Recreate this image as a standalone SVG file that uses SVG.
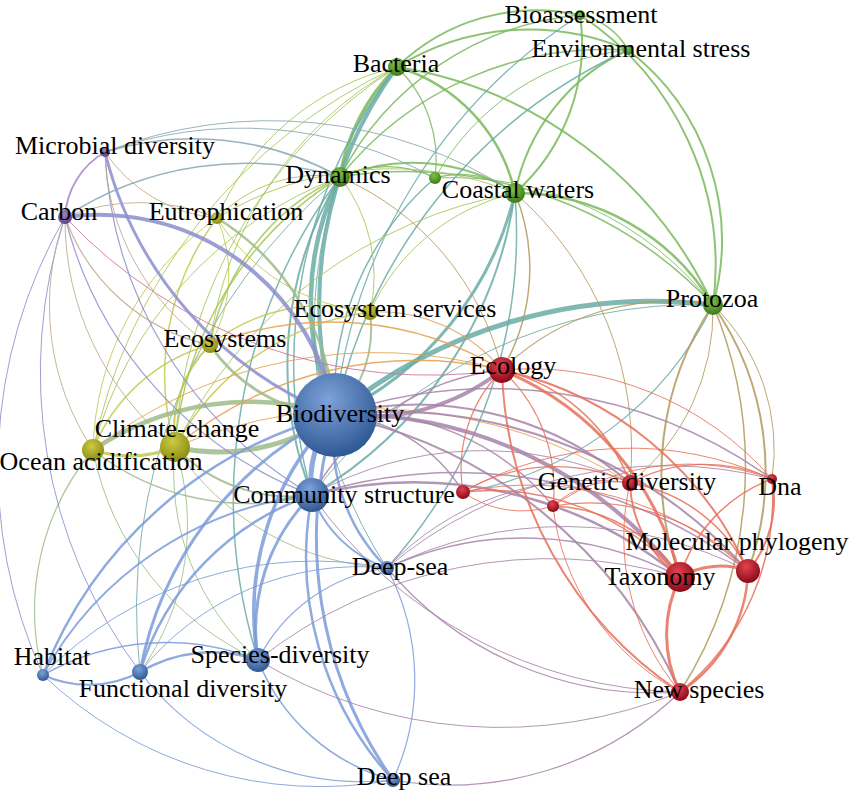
<svg xmlns="http://www.w3.org/2000/svg" width="850" height="794" viewBox="0 0 850 794">
<defs>
<radialGradient id="gB" cx="42%" cy="32%" r="70%"><stop offset="0" stop-color="#7ea2da"/><stop offset="1" stop-color="#2d5791"/></radialGradient>
<radialGradient id="gR" cx="42%" cy="32%" r="70%"><stop offset="0" stop-color="#e2434f"/><stop offset="1" stop-color="#880815"/></radialGradient>
<radialGradient id="gG" cx="42%" cy="32%" r="70%"><stop offset="0" stop-color="#7fc24c"/><stop offset="1" stop-color="#3a7817"/></radialGradient>
<radialGradient id="gY" cx="42%" cy="32%" r="70%"><stop offset="0" stop-color="#cbcb44"/><stop offset="1" stop-color="#8a8a10"/></radialGradient>
<radialGradient id="gP" cx="42%" cy="32%" r="70%"><stop offset="0" stop-color="#9d84be"/><stop offset="1" stop-color="#5b4180"/></radialGradient>
</defs>
<style>
path{fill:none;stroke-opacity:.85;stroke-linecap:round}
.gg{stroke:#79b95b}.rr{stroke:#e8705a}.bb{stroke:#7b9bd8}.yy{stroke:#c3c94e}.pp{stroke:#a88bc8}
.bg{stroke:#6aaca6}.br{stroke:#a684a8}.by{stroke:#9fbb8a}.bp{stroke:#8c8ecc}.rg{stroke:#b09a5c}
.ry{stroke:#e4a04e}.yg{stroke:#a6c456}.pg{stroke:#8aa6b0}.py{stroke:#bca98a}.pr{stroke:#d0708e}
text{font-family:"Liberation Serif","Times New Roman",serif;font-size:26px;fill:#000;text-anchor:middle}
</style>
<rect width="850" height="794" fill="#fff"/>
<g id="edges">
<path class="gg" stroke-width="3.5" d="M397 67A200 200 0 0 0 340 177"/>
<path class="gg" stroke-width="2" d="M397 67A200 200 0 0 1 580 15"/>
<path class="gg" stroke-width="2" d="M397 67A250 250 0 0 1 628 50"/>
<path class="gg" stroke-width="2.5" d="M397 67A170 170 0 0 1 515 193"/>
<path class="gg" stroke-width="1.2" d="M397 67A130 130 0 0 1 435 178"/>
<path class="gg" stroke-width="2" d="M397 67A420 420 0 0 1 713 305"/>
<path class="gg" stroke-width="1.5" d="M580 15A70 70 0 0 1 628 50"/>
<path class="gg" stroke-width="2" d="M580 15A200 200 0 0 1 515 193"/>
<path class="gg" stroke-width="2" d="M580 15A300 300 0 0 1 713 305"/>
<path class="gg" stroke-width="1.5" d="M580 15A300 300 0 0 0 340 177"/>
<path class="gg" stroke-width="2" d="M628 50A200 200 0 0 0 515 193"/>
<path class="gg" stroke-width="2" d="M628 50A240 240 0 0 1 713 305"/>
<path class="gg" stroke-width="1.5" d="M628 50A340 340 0 0 0 340 177"/>
<path class="gg" stroke-width="2" d="M340 177A190 190 0 0 1 515 193"/>
<path class="gg" stroke-width="1.2" d="M340 177A110 110 0 0 1 435 178"/>
<path class="gg" stroke-width="1.5" d="M340 177A420 420 0 0 1 713 305"/>
<path class="gg" stroke-width="2.5" d="M515 193A230 230 0 0 1 713 305"/>
<path class="gg" stroke-width="1.2" d="M435 178A90 90 0 0 1 515 193"/>
<path class="gg" stroke-width="1" d="M435 178A330 330 0 0 1 713 305"/>
<path class="gg" stroke-width="1" d="M435 178A250 250 0 0 1 628 50"/>
<path class="bg" stroke-width="5" d="M335 415A500 500 0 0 1 713 305"/>
<path class="bg" stroke-width="4.5" d="M335 415A280 280 0 0 1 340 177"/>
<path class="bg" stroke-width="4" d="M335 415A400 400 0 0 1 397 67"/>
<path class="bg" stroke-width="3" d="M335 415A330 330 0 0 0 515 193"/>
<path class="bg" stroke-width="1.5" d="M335 415A290 290 0 0 1 435 178"/>
<path class="bg" stroke-width="1.5" d="M335 415A520 520 0 0 1 628 50"/>
<path class="bg" stroke-width="1.2" d="M335 415A540 540 0 0 1 580 15"/>
<path class="bg" stroke-width="2" d="M312 495A360 360 0 0 1 340 177"/>
<path class="bg" stroke-width="2" d="M312 495A420 420 0 0 0 515 193"/>
<path class="bg" stroke-width="1.5" d="M312 495A480 480 0 0 1 397 67"/>
<path class="bg" stroke-width="1" d="M312 495A480 480 0 0 1 713 305"/>
<path class="bg" stroke-width="1.5" d="M387 568A500 500 0 0 0 515 193"/>
<path class="bg" stroke-width="1.5" d="M258 660A540 540 0 0 1 340 177"/>
<path class="bg" stroke-width="1" d="M140 672A560 560 0 0 1 340 177"/>
<path class="bg" stroke-width="1" d="M387 568A440 440 0 0 1 340 177"/>
<path class="bg" stroke-width="1.2" d="M463 492A340 340 0 0 0 713 305"/>
<path class="rg" stroke-width="1.5" d="M502 370A200 200 0 0 0 515 193"/>
<path class="rg" stroke-width="1.2" d="M502 370A240 240 0 0 1 713 305"/>
<path class="rg" stroke-width="1" d="M502 370A280 280 0 0 0 340 177"/>
<path class="rg" stroke-width="2" d="M680 577A300 300 0 0 1 713 305"/>
<path class="rg" stroke-width="2" d="M748 571A290 290 0 0 0 713 305"/>
<path class="rg" stroke-width="1.5" d="M680 692A420 420 0 0 0 713 305"/>
<path class="rg" stroke-width="1" d="M772 479A200 200 0 0 0 713 305"/>
<path class="rg" stroke-width="1" d="M630 483A340 340 0 0 0 515 193"/>
<path class="rg" stroke-width="1" d="M630 483A220 220 0 0 0 713 305"/>
<path class="yy" stroke-width="3" d="M175 447A120 120 0 0 1 93 450"/>
<path class="yy" stroke-width="2" d="M175 447A120 120 0 0 1 210 345"/>
<path class="yy" stroke-width="1.5" d="M175 447A260 260 0 0 1 217 218"/>
<path class="yy" stroke-width="1.5" d="M175 447A260 260 0 0 1 370 312"/>
<path class="yy" stroke-width="1.5" d="M93 450A175 175 0 0 1 210 345"/>
<path class="yy" stroke-width="1" d="M93 450A290 290 0 0 1 217 218"/>
<path class="yy" stroke-width="1" d="M210 345A140 140 0 0 0 217 218"/>
<path class="yy" stroke-width="1.5" d="M210 345A180 180 0 0 1 370 312"/>
<path class="yy" stroke-width="1" d="M217 218A200 200 0 0 0 370 312"/>
<path class="by" stroke-width="5" d="M335 415A200 200 0 0 1 175 447"/>
<path class="by" stroke-width="4.5" d="M93 450A280 280 0 0 1 335 415"/>
<path class="by" stroke-width="3" d="M210 345A160 160 0 0 0 335 415"/>
<path class="by" stroke-width="2" d="M370 312A120 120 0 0 1 335 415"/>
<path class="by" stroke-width="2.5" d="M217 218A250 250 0 0 1 335 415"/>
<path class="by" stroke-width="2" d="M175 447A160 160 0 0 0 312 495"/>
<path class="by" stroke-width="1.5" d="M93 450A250 250 0 0 0 312 495"/>
<path class="by" stroke-width="1" d="M93 450A290 290 0 0 0 258 660"/>
<path class="by" stroke-width="1" d="M175 447A250 250 0 0 0 258 660"/>
<path class="by" stroke-width="1" d="M175 447A250 250 0 0 1 140 672"/>
<path class="by" stroke-width="1.2" d="M43 675A250 250 0 0 1 93 450"/>
<path class="by" stroke-width="1" d="M175 447A270 270 0 0 0 387 568"/>
<path class="yg" stroke-width="1.5" d="M175 447A350 350 0 0 1 340 177"/>
<path class="yg" stroke-width="1" d="M175 447A480 480 0 0 1 397 67"/>
<path class="yg" stroke-width="1.5" d="M210 345A230 230 0 0 1 340 177"/>
<path class="yg" stroke-width="1" d="M217 218A140 140 0 0 1 340 177"/>
<path class="yg" stroke-width="1" d="M217 218A260 260 0 0 1 397 67"/>
<path class="yg" stroke-width="1" d="M370 312A160 160 0 0 0 340 177"/>
<path class="yg" stroke-width="1" d="M370 312A210 210 0 0 1 515 193"/>
<path class="yg" stroke-width="1" d="M175 447A470 470 0 0 1 515 193"/>
<path class="yg" stroke-width="1" d="M93 450A400 400 0 0 1 340 177"/>
<path class="yg" stroke-width="1" d="M217 218A330 330 0 0 1 515 193"/>
<path class="yg" stroke-width="1" d="M210 345A370 370 0 0 1 397 67"/>
<path class="yg" stroke-width="1" d="M93 450A540 540 0 0 1 397 67"/>
<path class="ry" stroke-width="1.5" d="M175 447A380 380 0 0 1 502 370"/>
<path class="ry" stroke-width="1.2" d="M370 312A160 160 0 0 1 502 370"/>
<path class="ry" stroke-width="1.5" d="M210 345A330 330 0 0 1 502 370"/>
<path class="ry" stroke-width="1" d="M93 450A460 460 0 0 1 502 370"/>
<path class="ry" stroke-width="1" d="M175 447A500 500 0 0 1 630 483"/>
<path class="pr" stroke-width="1" d="M65 217A500 500 0 0 0 502 370"/>
<path class="pp" stroke-width="2" d="M105 152A80 80 0 0 0 65 217"/>
<path class="bp" stroke-width="3" d="M105 152A380 380 0 0 0 335 415"/>
<path class="bp" stroke-width="4" d="M65 217A240 240 0 0 1 335 415"/>
<path class="bp" stroke-width="1.2" d="M105 152A420 420 0 0 0 312 495"/>
<path class="bp" stroke-width="1.2" d="M65 217A400 400 0 0 0 312 495"/>
<path class="bp" stroke-width="1" d="M65 217A500 500 0 0 0 43 675"/>
<path class="bp" stroke-width="1" d="M65 217A500 500 0 0 0 140 672"/>
<path class="py" stroke-width="1" d="M105 152A150 150 0 0 0 217 218"/>
<path class="py" stroke-width="1" d="M65 217A200 200 0 0 1 217 218"/>
<path class="py" stroke-width="1.2" d="M65 217A200 200 0 0 0 210 345"/>
<path class="py" stroke-width="1" d="M65 217A290 290 0 0 0 175 447"/>
<path class="py" stroke-width="1" d="M65 217A260 260 0 0 0 93 450"/>
<path class="py" stroke-width="1" d="M105 152A240 240 0 0 0 210 345"/>
<path class="pg" stroke-width="1.5" d="M105 152A300 300 0 0 1 340 177"/>
<path class="pg" stroke-width="1" d="M105 152A400 400 0 0 1 435 178"/>
<path class="pg" stroke-width="1.5" d="M65 217A330 330 0 0 1 340 177"/>
<path class="pg" stroke-width="1" d="M105 152A450 450 0 0 1 515 193"/>
<path class="bb" stroke-width="5" d="M335 415A100 100 0 0 0 312 495"/>
<path class="bb" stroke-width="3.5" d="M335 415A280 280 0 0 0 258 660"/>
<path class="bb" stroke-width="3" d="M335 415A360 360 0 0 0 140 672"/>
<path class="bb" stroke-width="2.5" d="M335 415A430 430 0 0 0 43 675"/>
<path class="bb" stroke-width="3" d="M335 415A420 420 0 0 0 393 780"/>
<path class="bb" stroke-width="2.5" d="M335 415A180 180 0 0 0 387 568"/>
<path class="bb" stroke-width="3" d="M312 495A190 190 0 0 0 258 660"/>
<path class="bb" stroke-width="2.5" d="M312 495A270 270 0 0 0 140 672"/>
<path class="bb" stroke-width="2" d="M312 495A350 350 0 0 0 43 675"/>
<path class="bb" stroke-width="2.5" d="M312 495A330 330 0 0 0 393 780"/>
<path class="bb" stroke-width="2" d="M312 495A120 120 0 0 0 387 568"/>
<path class="bb" stroke-width="2.5" d="M258 660A140 140 0 0 0 140 672"/>
<path class="bb" stroke-width="1.5" d="M258 660A250 250 0 0 0 43 675"/>
<path class="bb" stroke-width="1.5" d="M258 660A200 200 0 0 0 393 780"/>
<path class="bb" stroke-width="2" d="M140 672A110 110 0 0 1 43 675"/>
<path class="bb" stroke-width="1.2" d="M140 672A280 280 0 0 0 393 780"/>
<path class="bb" stroke-width="1" d="M43 675A400 400 0 0 0 393 780"/>
<path class="bb" stroke-width="1.2" d="M387 568A240 240 0 0 1 393 780"/>
<path class="bb" stroke-width="1" d="M387 568A280 280 0 0 0 140 672"/>
<path class="bb" stroke-width="1" d="M43 675A380 380 0 0 1 387 568"/>
<path class="bb" stroke-width="1.2" d="M258 660A170 170 0 0 1 387 568"/>
<path class="br" stroke-width="4" d="M335 415A220 220 0 0 0 502 370"/>
<path class="br" stroke-width="4" d="M335 415A420 420 0 0 1 680 577"/>
<path class="br" stroke-width="2" d="M335 415A480 480 0 0 1 748 571"/>
<path class="br" stroke-width="2" d="M335 415A480 480 0 0 1 680 692"/>
<path class="br" stroke-width="2" d="M335 415A330 330 0 0 1 630 483"/>
<path class="br" stroke-width="1.5" d="M335 415A160 160 0 0 1 463 492"/>
<path class="br" stroke-width="1.5" d="M335 415A250 250 0 0 1 553 506"/>
<path class="br" stroke-width="1.5" d="M335 415A480 480 0 0 1 772 479"/>
<path class="br" stroke-width="2.5" d="M312 495A420 420 0 0 1 680 577"/>
<path class="br" stroke-width="1.5" d="M312 495A480 480 0 0 1 748 571"/>
<path class="br" stroke-width="1" d="M312 495A460 460 0 0 0 680 692"/>
<path class="br" stroke-width="1.5" d="M312 495A250 250 0 0 1 502 370"/>
<path class="br" stroke-width="1" d="M312 495A350 350 0 0 1 630 483"/>
<path class="br" stroke-width="1.5" d="M387 568A330 330 0 0 1 680 577"/>
<path class="br" stroke-width="1.2" d="M387 568A350 350 0 0 0 680 692"/>
<path class="br" stroke-width="1" d="M387 568A400 400 0 0 1 748 571"/>
<path class="br" stroke-width="1" d="M387 568A280 280 0 0 1 630 483"/>
<path class="br" stroke-width="1" d="M387 568A430 430 0 0 1 772 479"/>
<path class="br" stroke-width="1.2" d="M393 780A330 330 0 0 0 680 692"/>
<path class="br" stroke-width="1" d="M258 660A470 470 0 0 1 680 577"/>
<path class="br" stroke-width="1" d="M258 660A470 470 0 0 0 680 692"/>
<path class="rr" stroke-width="3" d="M680 577A80 80 0 0 1 748 571"/>
<path class="rr" stroke-width="3" d="M680 692A130 130 0 0 1 680 577"/>
<path class="rr" stroke-width="2.5" d="M748 571A150 150 0 0 1 680 692"/>
<path class="rr" stroke-width="2" d="M772 479A110 110 0 0 1 748 571"/>
<path class="rr" stroke-width="1.5" d="M772 479A150 150 0 0 0 680 577"/>
<path class="rr" stroke-width="1.5" d="M772 479A250 250 0 0 1 680 692"/>
<path class="rr" stroke-width="2" d="M630 483A120 120 0 0 0 680 577"/>
<path class="rr" stroke-width="1.5" d="M630 483A160 160 0 0 1 748 571"/>
<path class="rr" stroke-width="1.2" d="M630 483A160 160 0 0 1 772 479"/>
<path class="rr" stroke-width="1" d="M630 483A240 240 0 0 0 680 692"/>
<path class="rr" stroke-width="3" d="M502 370A300 300 0 0 1 680 577"/>
<path class="rr" stroke-width="2" d="M502 370A350 350 0 0 1 748 571"/>
<path class="rr" stroke-width="2" d="M502 370A400 400 0 0 0 680 692"/>
<path class="rr" stroke-width="1.5" d="M502 370A180 180 0 0 1 630 483"/>
<path class="rr" stroke-width="1.2" d="M502 370A140 140 0 0 0 463 492"/>
<path class="rr" stroke-width="1.2" d="M502 370A160 160 0 0 1 553 506"/>
<path class="rr" stroke-width="1" d="M502 370A320 320 0 0 1 772 479"/>
<path class="rr" stroke-width="1.5" d="M463 492A250 250 0 0 1 680 577"/>
<path class="rr" stroke-width="1.2" d="M463 492A180 180 0 0 1 630 483"/>
<path class="rr" stroke-width="1" d="M463 492A100 100 0 0 0 553 506"/>
<path class="rr" stroke-width="1" d="M463 492A320 320 0 0 1 748 571"/>
<path class="rr" stroke-width="1.5" d="M553 506A160 160 0 0 1 680 577"/>
<path class="rr" stroke-width="1.2" d="M553 506A220 220 0 0 1 748 571"/>
<path class="rr" stroke-width="1" d="M553 506A90 90 0 0 1 630 483"/>
<path class="rr" stroke-width="1" d="M553 506A240 240 0 0 1 772 479"/>
<path class="rr" stroke-width="1" d="M463 492A340 340 0 0 1 772 479"/>
<path class="rr" stroke-width="1" d="M553 506A240 240 0 0 0 680 692"/>
</g>
<g id="n-bioassessment"><circle cx="580" cy="15" r="5" fill="url(#gG)"/><text x="581" y="23">Bioassessment</text></g>
<g id="n-environmental-stress"><circle cx="628" cy="50" r="5" fill="url(#gG)"/><text x="641" y="57">Environmental stress</text></g>
<g id="n-bacteria"><circle cx="397" cy="67" r="9" fill="url(#gG)"/><text x="396" y="72">Bacteria</text></g>
<g id="n-dynamics"><circle cx="340" cy="177" r="10" fill="url(#gG)"/><text x="338" y="183">Dynamics</text></g>
<g id="n-green-small"><circle cx="435" cy="178" r="6" fill="url(#gG)"/></g>
<g id="n-coastal-waters"><circle cx="515" cy="193" r="10" fill="url(#gG)"/><text x="518" y="198">Coastal waters</text></g>
<g id="n-protozoa"><circle cx="713" cy="305" r="10" fill="url(#gG)"/><text x="712" y="307">Protozoa</text></g>
<g id="n-microbial-diversity"><circle cx="105" cy="152" r="5" fill="url(#gP)"/><text x="115" y="154">Microbial diversity</text></g>
<g id="n-carbon"><circle cx="65" cy="217" r="7" fill="url(#gP)"/><text x="59" y="220">Carbon</text></g>
<g id="n-eutrophication"><circle cx="217" cy="218" r="6" fill="url(#gY)"/><text x="226" y="220">Eutrophication</text></g>
<g id="n-ecosystems"><circle cx="210" cy="345" r="8" fill="url(#gY)"/><text x="225" y="347">Ecosystems</text></g>
<g id="n-ecosystem-services"><circle cx="370" cy="312" r="8" fill="url(#gY)"/><text x="395" y="317">Ecosystem services</text></g>
<g id="n-climate-change"><circle cx="175" cy="447" r="15" fill="url(#gY)"/><text x="177" y="437">Climate-change</text></g>
<g id="n-ocean-acidification"><circle cx="93" cy="450" r="11" fill="url(#gY)"/><text x="101" y="470">Ocean acidification</text></g>
<g id="n-biodiversity"><circle cx="335" cy="415" r="42" fill="url(#gB)"/><text x="340" y="422">Biodiversity</text></g>
<g id="n-red-small-1"><circle cx="463" cy="492" r="7" fill="url(#gR)"/></g>
<g id="n-community-structure"><circle cx="312" cy="495" r="17" fill="url(#gB)"/><text x="344" y="503">Community structure</text></g>
<g id="n-deep-sea-1"><circle cx="387" cy="568" r="7" fill="url(#gB)"/><text x="400" y="575">Deep-sea</text></g>
<g id="n-ecology"><circle cx="502" cy="370" r="13" fill="url(#gR)"/><text x="513" y="374">Ecology</text></g>
<g id="n-red-small-2"><circle cx="553" cy="506" r="6" fill="url(#gR)"/></g>
<g id="n-genetic-diversity"><circle cx="630" cy="483" r="8" fill="url(#gR)"/><text x="627" y="490">Genetic diversity</text></g>
<g id="n-dna"><circle cx="772" cy="479" r="5" fill="url(#gR)"/><text x="780" y="495">Dna</text></g>
<g id="n-molecular-phylogeny"><circle cx="748" cy="571" r="12" fill="url(#gR)"/><text x="737" y="550">Molecular phylogeny</text></g>
<g id="n-taxonomy"><circle cx="680" cy="577" r="15" fill="url(#gR)"/><text x="660" y="585">Taxonomy</text></g>
<g id="n-new-species"><circle cx="680" cy="692" r="9" fill="url(#gR)"/><text x="699" y="698">New species</text></g>
<g id="n-habitat"><circle cx="43" cy="675" r="6" fill="url(#gB)"/><text x="52" y="665">Habitat</text></g>
<g id="n-functional-diversity"><circle cx="140" cy="672" r="8" fill="url(#gB)"/><text x="183" y="697">Functional diversity</text></g>
<g id="n-species-diversity"><circle cx="258" cy="660" r="12" fill="url(#gB)"/><text x="280" y="663">Species-diversity</text></g>
<g id="n-deep-sea-2"><circle cx="393" cy="780" r="7" fill="url(#gB)"/><text x="404" y="785">Deep sea</text></g>
</svg>
